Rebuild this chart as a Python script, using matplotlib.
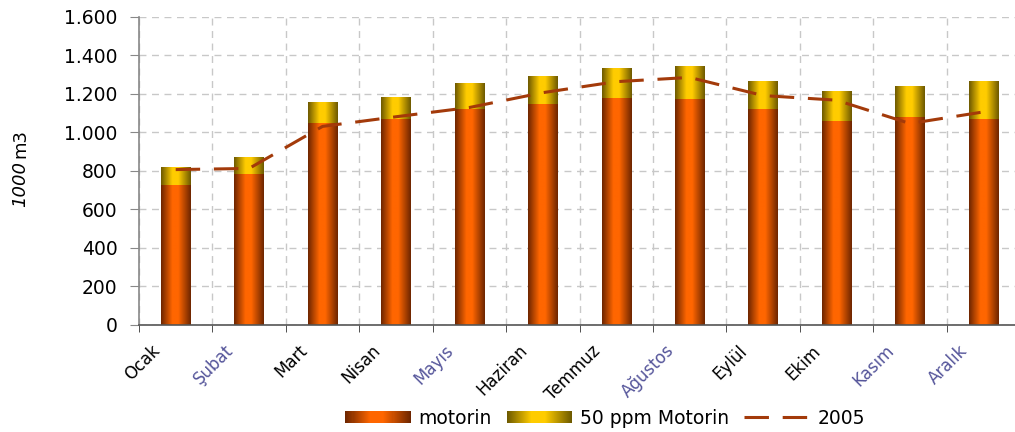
import numpy as np
import matplotlib
matplotlib.use("Agg")
import matplotlib.pyplot as plt
from matplotlib.patches import Rectangle
from matplotlib.legend_handler import HandlerBase
from matplotlib.transforms import ScaledTranslation

# --- Data (1000 m3) ---
months = ["Ocak", "Şubat", "Mart", "Nisan", "Mayıs", "Haziran",
          "Temmuz", "Ağustos", "Eylül", "Ekim", "Kasım", "Aralık"]
motorin = [725, 784, 1046, 1067, 1119, 1145, 1176, 1171, 1119, 1057, 1078, 1067]
ppm50 = [92, 86, 108, 109, 130, 145, 155, 171, 145, 155, 160, 192]
y2005 = [806, 812, 1030, 1080, 1128, 1205, 1262, 1284, 1190, 1166, 1045, 1105]
yticks = [0, 200, 400, 600, 800, 1000, 1200, 1400, 1600]
ytick_labels = ["0", "200", "400", "600", "800", "1.000", "1.200", "1.400", "1.600"]
tinted = ["Şubat", "Mayıs", "Ağustos", "Kasım", "Aralık"]


def shade(dark, bright, n=64):
    # cylinder-like shading: dark edges, bright middle
    t = np.linspace(0, 1, n)
    w = np.interp(t, [0, 0.38, 0.58, 1], [0, 1, 1, 0])
    dark = np.array(dark) / 255.0
    bright = np.array(bright) / 255.0
    return (dark[None, :] * (1 - w)[:, None] + bright[None, :] * w[:, None])[None, :, :]


orange_img = shade((0x6E, 0x26, 0x00), (0xFF, 0x66, 0x00))
yellow_img = shade((0x6E, 0x5A, 0x00), (0xFF, 0xCC, 0x00))


class GradientHandler(HandlerBase):
    def __init__(self, img):
        super().__init__()
        self.img = img

    def create_artists(self, legend, orig_handle, xdescent, ydescent,
                       width, height, fontsize, trans):
        n = self.img.shape[1]
        arts = []
        for i in range(n):
            arts.append(Rectangle((-xdescent + width * i / n, -ydescent),
                                  width / n * 1.05, height,
                                  facecolor=self.img[0, i], edgecolor="none",
                                  transform=trans))
        return arts


plt.rcParams["font.family"] = ["DejaVu Sans"]
fig = plt.figure(figsize=(10.15, 4.32), dpi=100)
ax = fig.add_axes([139 / 1015, 107 / 432, 881 / 1015, 308.5 / 432])

x = np.arange(len(months))
bars_m = ax.bar(x, motorin, width=0.4, color="none", zorder=2)
bars_p = ax.bar(x, ppm50, width=0.4, bottom=motorin, color="none", zorder=2)

# paint the gradients into the bar rectangles
for bars, img in [(bars_m, orange_img), (bars_p, yellow_img)]:
    for p in bars.patches:
        x0, y0 = p.get_x(), p.get_y()
        ax.imshow(img, extent=(x0, x0 + p.get_width(), y0, y0 + p.get_height()),
                  aspect="auto", interpolation="bilinear", zorder=2)

line, = ax.plot(x, y2005, color="#A33A0A", lw=2.2, dashes=(8, 4.5), zorder=3)

ax.set_xlim(-0.5, len(months) - 0.5)
ax.set_ylim(0, 1600)
ax.set_yticks(yticks)
ax.set_yticklabels(ytick_labels, fontsize=13.5)
ax.set_xticks(x)
ax.set_xticklabels(months, rotation=45, ha="right", va="top", fontsize=12)
ax.set_xticks(np.arange(len(months) + 1) - 0.5, minor=True)
ax.tick_params(axis="x", which="major", length=0, pad=12)
ax.tick_params(axis="x", which="minor", length=5, color="#333333")
ax.tick_params(axis="y", length=6.5, color="#888888", pad=9)
shift = ScaledTranslation(-12 / 100, 0, fig.dpi_scale_trans)
for lab in ax.get_xticklabels():
    lab.set_transform(lab.get_transform() + shift)
    if lab.get_text() in tinted:
        lab.set_color("#55559a")

ax.set_axisbelow(True)
ax.grid(axis="y", which="major", color="#c8c8c8", linestyle=(0, (5, 4)), lw=1)
ax.grid(axis="x", which="minor", color="#c8c8c8", linestyle=(0, (5, 4)), lw=1)
ax.grid(axis="x", which="major", visible=False)
for s in ["top", "right"]:
    ax.spines[s].set_visible(False)
ax.spines["left"].set_color("#888888")
ax.spines["bottom"].set_color("#555555")
ax.spines["left"].set_linewidth(1.2)
ax.spines["bottom"].set_linewidth(1.2)

# y label: "1000" italic, "m3" upright
fig.text(20 / 1015, 1 - 184 / 432, "1000", rotation=90, style="italic",
         fontsize=13, ha="center", va="center")
fig.text(20 / 1015, 1 - 143 / 432, "m3", rotation=90,
         fontsize=13, ha="center", va="center")

h_m = Rectangle((0, 0), 1, 1)
h_p = Rectangle((0, 0), 1, 1)
fig.legend([h_m, h_p, line], ["motorin", "50 ppm Motorin", "2005"],
           handler_map={h_m: GradientHandler(orange_img), h_p: GradientHandler(yellow_img)},
           loc="center", bbox_to_anchor=(605 / 1015, 14 / 432), ncol=3, frameon=False,
           fontsize=13.5, handlelength=3.5, handleheight=0.65, handletextpad=0.4,
           columnspacing=0.8, borderpad=0.2)

fig.savefig("out.png", dpi=100)
